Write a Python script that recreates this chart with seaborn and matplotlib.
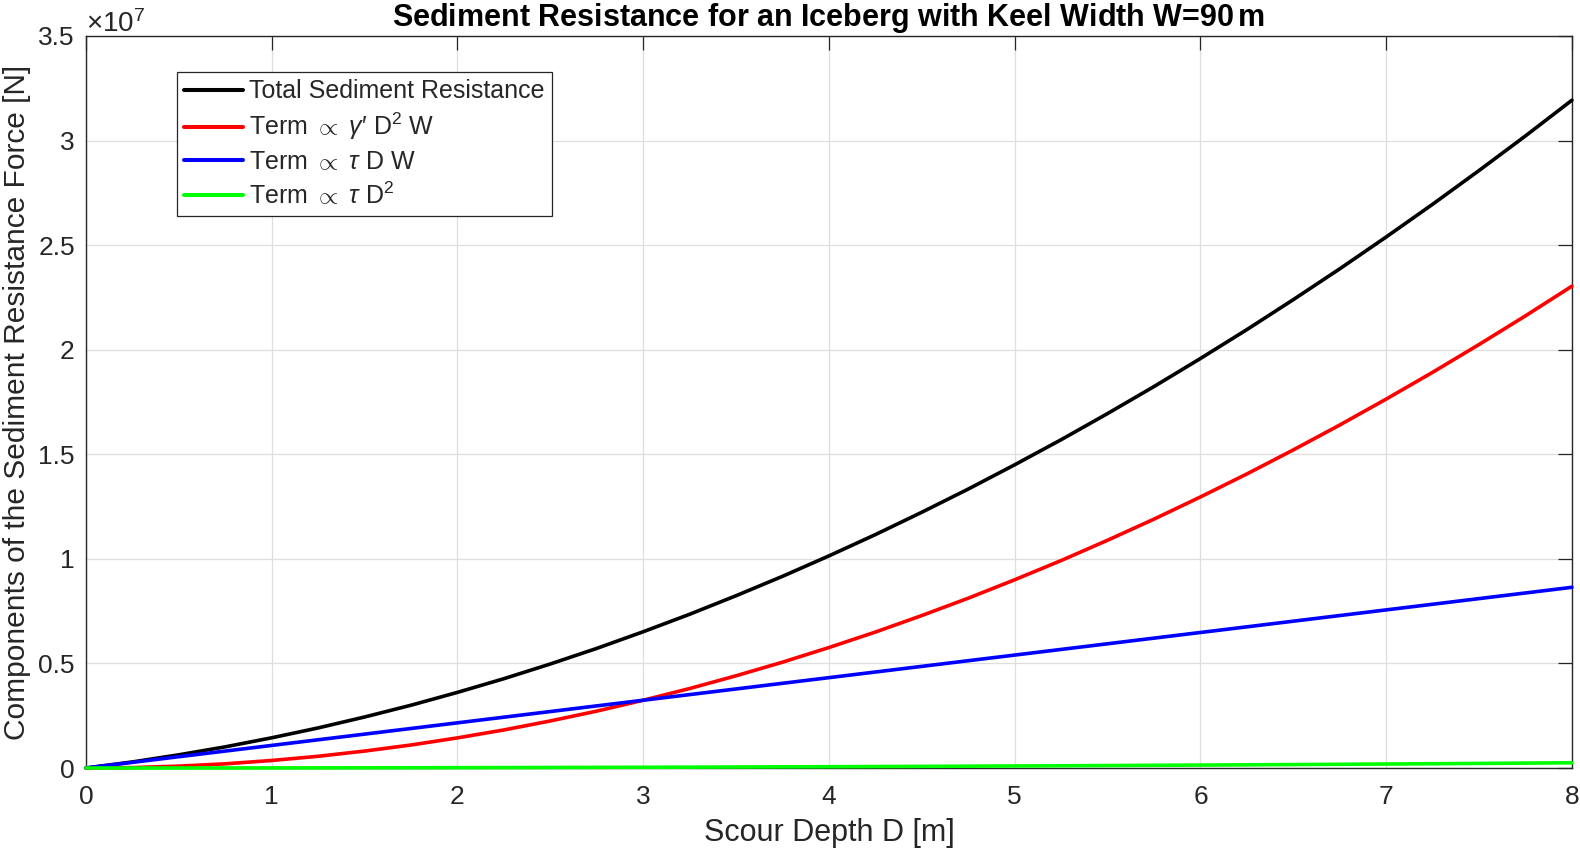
import numpy as np
import pandas as pd
import matplotlib as mpl
import matplotlib.pyplot as plt
import seaborn as sns
from matplotlib.ticker import ScalarFormatter

# Scour depth D [m] and force components (units of 1e7 N)
DEPTH = [0, 0.25, 0.5, 0.75, 1, 1.25, 1.5, 1.75, 2, 2.25, 2.5, 2.75, 3, 3.25,
         3.5, 3.75, 4, 4.25, 4.5, 4.75, 5, 5.25, 5.5, 5.75, 6, 6.25, 6.5,
         6.75, 7, 7.25, 7.5, 7.75, 8]
TOTAL = [0, 0.029, 0.0631, 0.1012, 0.1444, 0.1916, 0.2439, 0.3002, 0.3616,
         0.427, 0.4974, 0.5719, 0.6515, 0.7351, 0.8238, 0.9165, 1.0142,
         1.116, 1.2229, 1.3338, 1.4498, 1.5697, 1.6948, 1.8239, 1.958,
         2.0962, 2.2395, 2.3868, 2.5391, 2.6955, 2.8569, 3.0224, 3.193]
TERM_GAMMA = [0, 0.002, 0.009, 0.020, 0.036, 0.056, 0.081, 0.110, 0.144,
              0.182, 0.225, 0.272, 0.324, 0.380, 0.441, 0.506, 0.576, 0.650,
              0.729, 0.812, 0.900, 0.992, 1.089, 1.190, 1.296, 1.406, 1.521,
              1.640, 1.764, 1.892, 2.025, 2.162, 2.304]
TERM_TAU_DW = [0, 0.027, 0.054, 0.081, 0.108, 0.135, 0.162, 0.189, 0.216,
               0.243, 0.270, 0.297, 0.324, 0.351, 0.378, 0.405, 0.432, 0.459,
               0.486, 0.513, 0.540, 0.567, 0.594, 0.621, 0.648, 0.675, 0.702,
               0.729, 0.756, 0.783, 0.810, 0.837, 0.864]
TERM_TAU_D2 = [0, 0.00002, 0.0001, 0.0002, 0.0004, 0.0006, 0.0009, 0.0012,
               0.0016, 0.0020, 0.0024, 0.0029, 0.0035, 0.0041, 0.0048, 0.0055,
               0.0062, 0.0070, 0.0079, 0.0088, 0.0098, 0.0107, 0.0118, 0.0129,
               0.0140, 0.0152, 0.0165, 0.0178, 0.0191, 0.0205, 0.0219, 0.0234,
               0.0250]

LABELS = [
    "Total Sediment Resistance",
    r"Term $\propto$ $\gamma\prime$ D$^2$ W",
    r"Term $\propto$ $\tau$ D W",
    r"Term $\propto$ $\tau$ D$^2$",
]
COLORS = ["#000000", "#ff0000", "#0000ff", "#00ff00"]

series = [TOTAL, TERM_GAMMA, TERM_TAU_DW, TERM_TAU_D2]
df = pd.concat(
    [
        pd.DataFrame({"D": DEPTH, "F": np.array(vals) * 1e7, "term": lab})
        for lab, vals in zip(LABELS, series)
    ],
    ignore_index=True,
)


class TrimFormatter(ScalarFormatter):
    # matlab style tick labels: 0, 0.5, 1 ... with the x10^7 on top
    def _set_format(self):
        self.format = "%g"


sns.set_theme(style="white")
ink = "#262626"
mpl.rcParams.update(
    {
        "font.family": ["Liberation Sans", "DejaVu Sans"],
        "mathtext.fontset": "custom",
        "mathtext.rm": "Liberation Sans",
        "mathtext.it": "Liberation Sans:italic",
        "axes.edgecolor": ink,
        "axes.labelcolor": ink,
        "xtick.color": ink,
        "ytick.color": ink,
        "text.color": ink,
    }
)

fig = plt.figure(figsize=(15.8, 8.49), dpi=100)
ax = fig.add_axes([0.0544, 0.0954, 0.9405, 0.8622])

sns.lineplot(
    data=df,
    x="D",
    y="F",
    hue="term",
    hue_order=LABELS,
    palette=COLORS,
    linewidth=2.6,
    ax=ax,
    zorder=3,
)
# lines sit on top of the box like in matlab (green one runs along y=0)
for ln in ax.lines:
    ln.set_clip_on(False)

ax.set_xlim(0, 8)
ax.set_ylim(0, 3.5e7)
ax.set_xticks(range(0, 9))
ax.set_yticks(np.arange(0, 3.51e7, 0.5e7))
fmt = TrimFormatter(useMathText=True)
fmt.set_powerlimits((7, 7))
ax.yaxis.set_major_formatter(fmt)
ax.yaxis.get_offset_text().set_fontsize(20)
ax.yaxis.get_offset_text().set_color(ink)

ax.tick_params(axis="both", direction="in", length=10, width=0.9, labelsize=19,
               top=True, right=True)
ax.tick_params(axis="x", pad=12)
ax.tick_params(axis="y", pad=8)
ax.grid(True, color="#dedede", linewidth=0.9, zorder=0)
ax.set_axisbelow(True)
for sp in ax.spines.values():
    sp.set_linewidth(1.0)
    sp.set_color(ink)

ax.set_xlabel("Scour Depth D [m]", fontsize=22, labelpad=7)
ax.set_ylabel("Components of the Sediment Resistance Force [N]", fontsize=21.5, labelpad=5)
ax.set_title(
    "Sediment Resistance for an Iceberg with Keel Width W=90$\\,$m",
    fontsize=22, fontweight="bold", color="#000000", pad=7,
)

leg = ax.legend(
    loc="upper left",
    bbox_to_anchor=(0.0612, 0.951),
    fontsize=18,
    frameon=True,
    fancybox=False,
    framealpha=1,
    edgecolor=ink,
    handlelength=2.35,
    handletextpad=0.25,
    labelspacing=0.3,
    borderpad=0.3,
    borderaxespad=0,
)
leg.get_frame().set_linewidth(0.9)
leg.set_zorder(5)
for h in leg.get_lines():
    h.set_linewidth(2.9)

fig.savefig("out.png", dpi=100, facecolor="white")
